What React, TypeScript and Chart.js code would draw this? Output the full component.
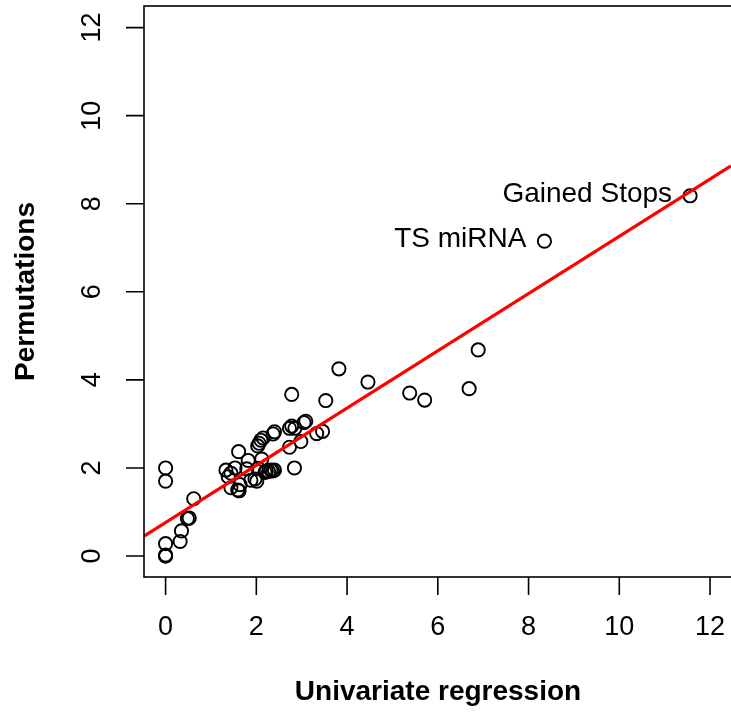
import React, { useEffect, useRef } from "react";
import { Chart, registerables } from "chart.js";

Chart.register(...registerables);

const FONT = "'Liberation Sans', Arial, Helvetica, sans-serif";

const X_TITLE = "Univariate regression";
const Y_TITLE = "Permutations";

const X_TICKS = [0, 2, 4, 6, 8, 10, 12];
const Y_TICKS = [0, 2, 4, 6, 8, 10, 12];

const X_VALUES = [
  0, 0, 0, 0, 0, 0,
  0.32, 0.35, 0.48, 0.52, 0.62,
  1.33, 1.38, 1.44, 1.44, 1.53, 1.59, 1.62, 1.61, 1.64, 1.79, 1.82, 1.88, 1.97, 2.01, 2.04,
  2.03, 2.06, 2.1, 2.15, 2.12, 2.19, 2.22, 2.27, 2.32, 2.36, 2.4, 2.37, 2.4,
  2.73, 2.84, 2.73, 2.78, 2.85, 2.98, 3.05, 3.09, 3.33, 3.46,
  2.78, 3.53, 3.82, 4.46, 5.38, 5.71, 6.69, 6.89,
  8.35, 11.56,
];
const Y_VALUES = [
  0, 0, 0.02, 0.28, 1.7, 2.0,
  0.33, 0.57, 0.85, 0.86, 1.3,
  1.95, 1.8, 1.55, 1.88, 2.0, 1.5, 1.48, 2.37, 1.62, 1.98, 2.17, 1.72, 1.75, 1.7, 1.99,
  2.5, 2.56, 2.63, 2.68, 2.2, 1.9, 1.93, 1.92, 1.95, 1.93, 1.95, 2.77, 2.82,
  2.47, 2.0, 2.9, 2.95, 2.9, 2.6, 3.03, 3.06, 2.78, 2.83,
  3.67, 3.53, 4.25, 3.95, 3.7, 3.54, 3.8, 4.68,
  7.15, 8.18,
];
const POINT_LABELS = X_VALUES.map((_, i) =>
  i === X_VALUES.length - 2 ? "TS miRNA" : i === X_VALUES.length - 1 ? "Gained Stops" : ""
);

const FIT_INTERCEPT = 0.76;
const FIT_SLOPE = 0.65;

const X_MIN = -0.476;
const X_MAX = 12.462;
const Y_MIN = -0.477;
const Y_MAX = 12.49;

const rAxesPlugin = {
  id: "rAxes",
  afterDatasetsDraw(chart: any) {
    const { ctx, chartArea, scales } = chart;
    const { left, top, right, bottom } = chartArea;
    const xs = scales.x;
    const ys = scales.y;
    ctx.save();
    ctx.strokeStyle = "#000";
    ctx.lineWidth = 1.6;
    ctx.strokeRect(left, top, right - left + 1, bottom - top);
    ctx.beginPath();
    for (const v of X_TICKS) {
      const px = xs.getPixelForValue(v);
      ctx.moveTo(px, bottom);
      ctx.lineTo(px, bottom + 18);
    }
    for (const v of Y_TICKS) {
      const py = ys.getPixelForValue(v);
      ctx.moveTo(left, py);
      ctx.lineTo(left - 18, py);
    }
    ctx.stroke();

    ctx.fillStyle = "#000";
    ctx.font = `27px ${FONT}`;
    ctx.textAlign = "center";
    ctx.textBaseline = "middle";
    for (const v of X_TICKS) {
      ctx.fillText(String(v), xs.getPixelForValue(v), bottom + 51);
    }
    for (const v of Y_TICKS) {
      ctx.save();
      ctx.translate(left - 51, ys.getPixelForValue(v));
      ctx.rotate(-Math.PI / 2);
      ctx.fillText(String(v), 0, 0);
      ctx.restore();
    }

    ctx.font = `bold 28px ${FONT}`;
    ctx.fillText(X_TITLE, 438, bottom + 115);
    ctx.save();
    ctx.translate(26, (top + bottom) / 2);
    ctx.rotate(-Math.PI / 2);
    ctx.fillText(Y_TITLE, 0, 0);
    ctx.restore();

    ctx.font = `28px ${FONT}`;
    ctx.textAlign = "right";
    POINT_LABELS.forEach((lab, i) => {
      if (!lab) return;
      const px = xs.getPixelForValue(X_VALUES[i]);
      const py = ys.getPixelForValue(Y_VALUES[i]);
      ctx.fillText(lab, px - 18, py - 2);
    });
    ctx.restore();
  },
};

export default function App() {
  const canvasRef = useRef<HTMLCanvasElement | null>(null);

  useEffect(() => {
    const canvas = canvasRef.current;
    if (!canvas) return;
    const points = X_VALUES.map((x, i) => ({ x, y: Y_VALUES[i] }));
    const fitLine = [X_MIN, X_MAX].map((x) => ({ x, y: FIT_INTERCEPT + FIT_SLOPE * x }));
    const chart = new Chart(canvas, {
      type: "scatter",
      data: {
        datasets: [
          {
            type: "line",
            data: fitLine,
            borderColor: "#ff0000",
            borderWidth: 3.2,
            pointRadius: 0,
            fill: false,
            order: 0,
          } as any,
          {
            data: points,
            pointStyle: "circle",
            pointRadius: 6.6,
            pointBorderWidth: 1.9,
            borderColor: "#000",
            backgroundColor: "rgba(0,0,0,0)",
            pointBackgroundColor: "rgba(0,0,0,0)",
            pointBorderColor: "#000",
            order: 1,
          } as any,
        ],
      },
      options: {
        responsive: false,
        animation: false,
        devicePixelRatio: 1,
        layout: { autoPadding: false, padding: { left: 144, top: 6, right: 0, bottom: 138 } },
        plugins: { legend: { display: false }, tooltip: { enabled: false } },
        scales: {
          x: { type: "linear", min: X_MIN, max: X_MAX, display: false },
          y: { type: "linear", min: Y_MIN, max: Y_MAX, display: false },
        },
      },
      plugins: [rAxesPlugin],
    });
    return () => chart.destroy();
  }, []);

  return (
    <div style={{ position: "absolute", left: 0, top: 0, width: 731, height: 715, background: "#fff" }}>
      <canvas ref={canvasRef} width={731} height={715} style={{ display: "block", width: 731, height: 715 }} />
    </div>
  );
}
